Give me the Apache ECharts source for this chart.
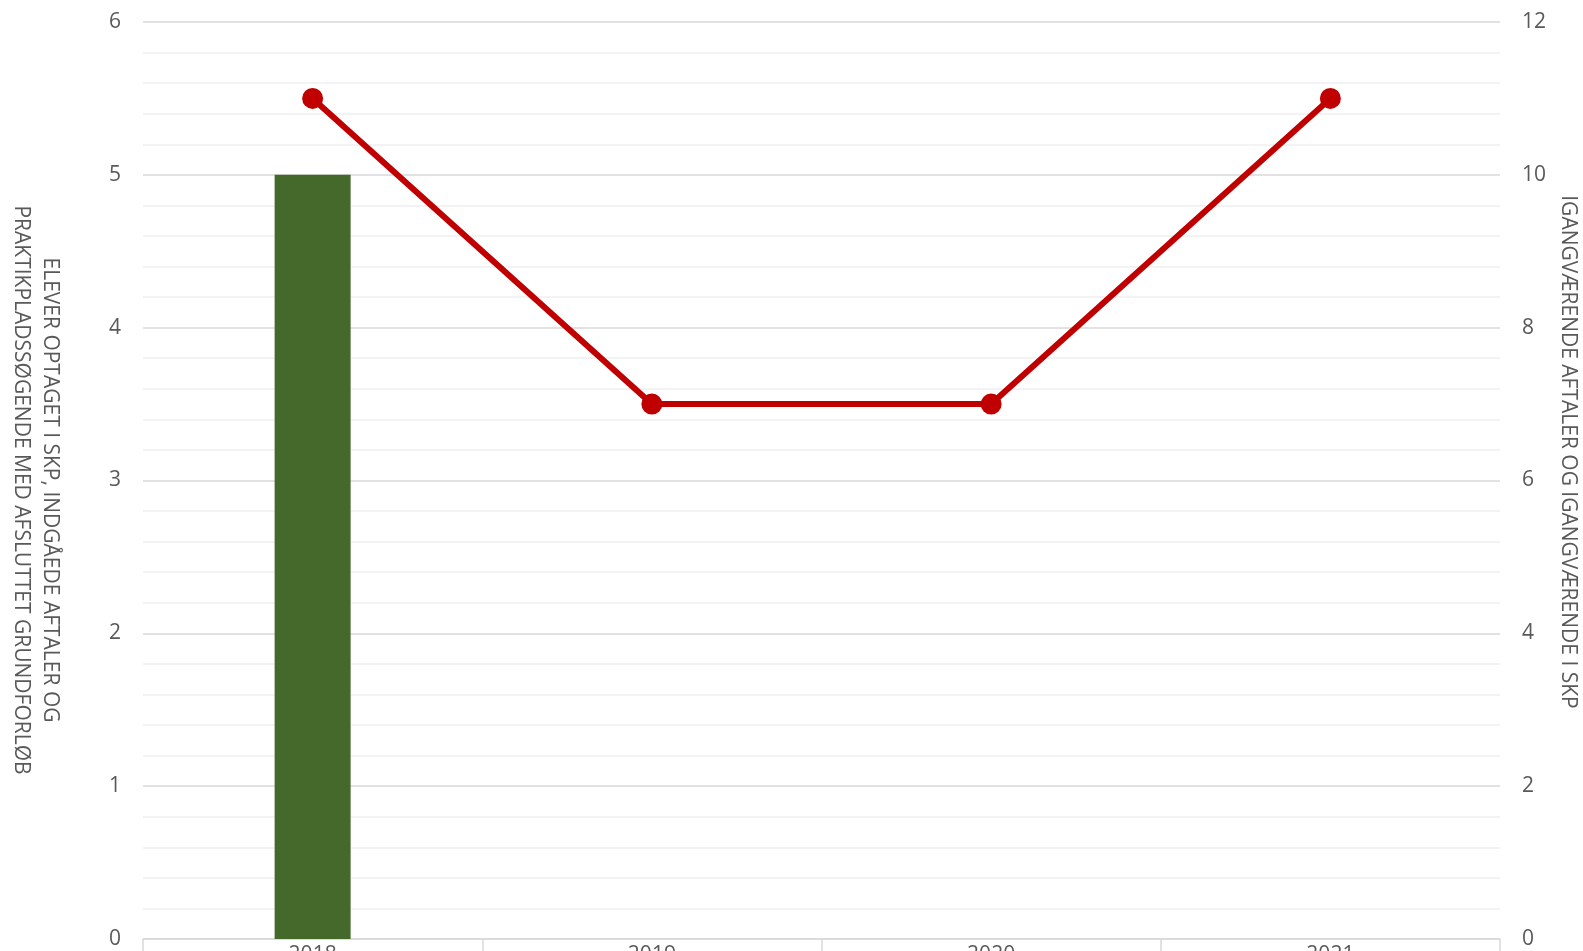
<!DOCTYPE html>
<html><head><meta charset="utf-8">
<script src="https://cdn.jsdelivr.net/npm/echarts@6/dist/echarts.min.js"></script>
<style>html,body{margin:0;padding:0;background:#fff}#c{width:1583px;height:951px}</style>
</head><body><div id="c"></div>
<script>
const categories = ['2018', '2019', '2020', '2021'];
const barValues = [5, null, null, null];
const lineValues = [11, 7, 7, 11];
const leftTicks = [0, 1, 2, 3, 4, 5, 6];
const rightTicks = [0, 2, 4, 6, 8, 10, 12];
const leftName1 = 'ELEVER OPTAGET I SKP, INDGÅEDE AFTALER OG';
const leftName2 = 'PRAKTIKPLADSSØGENDE MED AFSLUTTET GRUNDFORLØB';
const rightName = 'IGANGVÆRENDE AFTALER OG IGANGVÆRENDE I SKP';

const FONT = 'Open Sans';
const chart = echarts.init(document.getElementById('c'));
chart.setOption({
  animation: false,
  grid: {left: 143, right: 83, top: 22, bottom: 12, outerBoundsMode: 'none', containLabel: false},
  xAxis: {
    type: 'category', data: categories,
    axisLine: {lineStyle: {color: '#d9d9d9', width: 1.5}},
    axisTick: {show: true, length: 20, lineStyle: {color: '#d9d9d9', width: 1.5}},
    axisLabel: {color: '#595959', fontSize: 21, fontFamily: FONT, margin: 6}
  },
  yAxis: [{
    type: 'value', min: leftTicks[0], max: leftTicks[leftTicks.length-1], interval: 1,
    axisLine: {show: false}, axisTick: {show: false},
    axisLabel: {color: '#595959', fontSize: 21, fontFamily: FONT, margin: 22},
    splitLine: {lineStyle: {color: '#d9d9d9', width: 1.5}},
    minorTick: {show: false, splitNumber: 5},
    minorSplitLine: {show: true, lineStyle: {color: '#f0f0f0', width: 1.5}}
  }, {
    type: 'value', min: rightTicks[0], max: rightTicks[rightTicks.length-1], interval: 2,
    axisLine: {show: false}, axisTick: {show: false},
    axisLabel: {color: '#595959', fontSize: 21, fontFamily: FONT, margin: 22},
    splitLine: {show: false}
  }],
  graphic: [
    {type: 'text', x: 50, y: 490, rotation: -Math.PI/2,
     style: {text: leftName1, fill: '#595959', font: '21px "Open Sans"', align: 'center', verticalAlign: 'middle'}},
    {type: 'text', x: 21, y: 490, rotation: -Math.PI/2,
     style: {text: leftName2, fill: '#595959', font: '21px "Open Sans"', align: 'center', verticalAlign: 'middle'}},
    {type: 'text', x: 1568, y: 452, rotation: -Math.PI/2,
     style: {text: rightName, fill: '#595959', font: '21px "Open Sans"', align: 'center', verticalAlign: 'middle'}}
  ],
  series: [{
    type: 'bar', data: barValues, yAxisIndex: 0, barWidth: 76,
    itemStyle: {color: '#44692B'}
  }, {
    type: 'line', data: lineValues, yAxisIndex: 1,
    lineStyle: {color: '#C00000', width: 6},
    itemStyle: {color: '#C00000'},
    symbol: 'circle', symbolSize: 21
  }]
});
</script></body></html>
